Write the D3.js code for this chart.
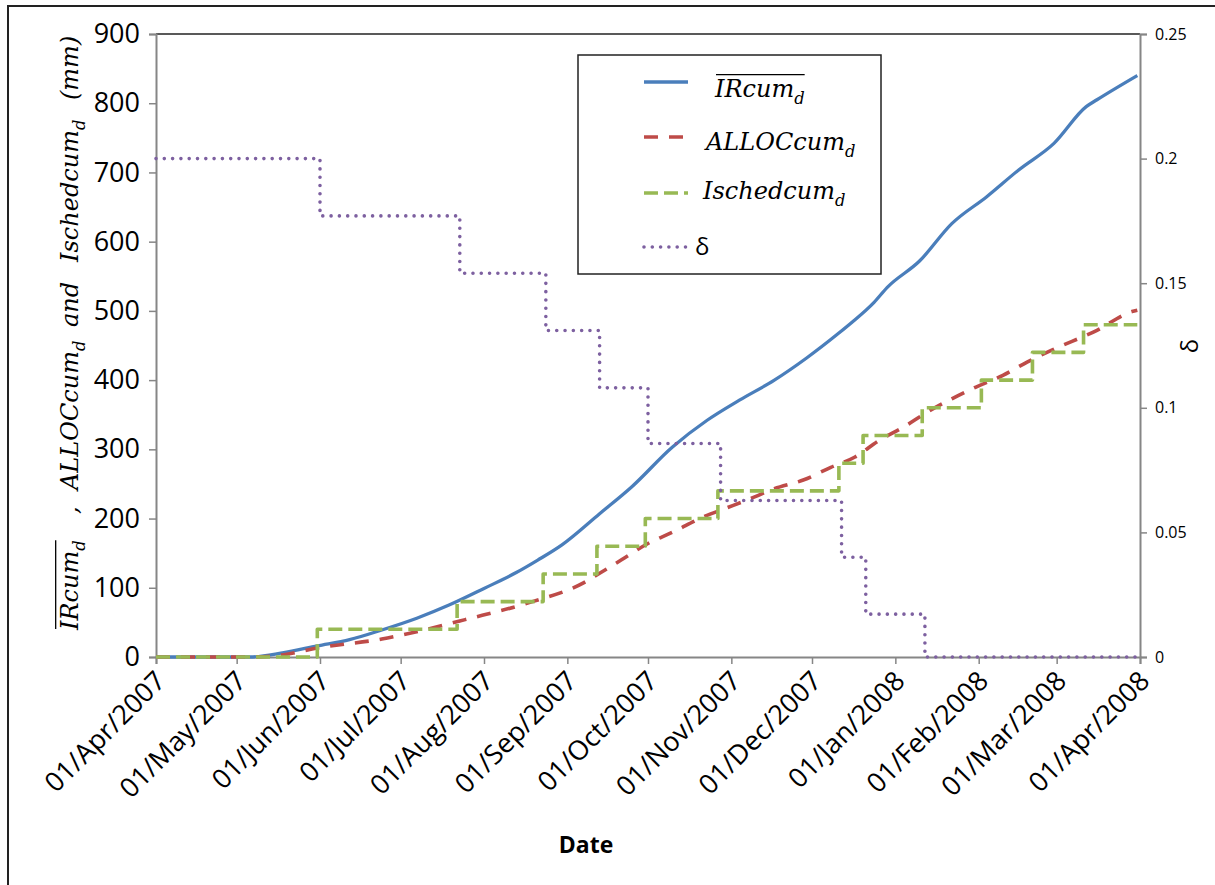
<!DOCTYPE html>
<html>
<head>
<meta charset="utf-8">
<script src="https://cdn.jsdelivr.net/npm/d3@7"></script>
<style>
  body { margin: 0; background: #fff; }
  svg { display: block; }
</style>
</head>
<body>
<svg id="chart"></svg>
<script>
// Données
const monthTicks = ["2007-04-01","2007-05-01","2007-06-01","2007-07-01","2007-08-01","2007-09-01",
  "2007-10-01","2007-11-01","2007-12-01","2008-01-01","2008-02-01","2008-03-01","2008-04-01"];

const irDates = ["2007-04-01","2007-05-06","2007-05-18","2007-05-31","2007-06-12","2007-06-24","2007-07-07",
  "2007-07-19","2007-08-01","2007-08-13","2007-08-21","2007-08-30","2007-09-13","2007-09-25","2007-10-10",
  "2007-10-23","2007-11-04","2007-11-17","2007-11-29","2007-12-11","2007-12-16","2007-12-24","2007-12-29",
  "2008-01-10","2008-01-22","2008-02-04","2008-02-16","2008-02-29","2008-03-12","2008-03-16","2008-03-31"];
const irValues = [0,0,6,16,25,39,56,75,99,122,140,162,207,246,303,342,371,400,432,468,484,512,534,572,626,
  665,704,742,795,805,840];

const allocDates = ["2007-04-01","2007-05-06","2007-05-18","2007-05-31","2007-06-24","2007-07-04","2007-07-19",
  "2007-07-25","2007-08-13","2007-08-19","2007-09-07","2007-09-13","2007-09-21","2007-10-01","2007-10-10",
  "2007-10-22","2007-10-30","2007-11-07","2007-11-17","2007-11-28","2007-12-08","2007-12-17","2007-12-26",
  "2008-01-04","2008-01-13","2008-01-22","2008-01-31","2008-02-10","2008-02-19","2008-02-28","2008-03-16",
  "2008-03-29","2008-03-31"];
const allocValues = [0,0,3,13,26,34,48,54,73,80,107,121,140,164,180,203,215,227,243,256,274,289,313,332,354,
  373,390,407,426,443,472,499,501];

const schedDates = ["2007-04-01","2007-05-31","2007-07-22","2007-08-23","2007-09-12","2007-09-30","2007-10-27",
  "2007-12-11","2007-12-20","2008-01-11","2008-02-02","2008-02-21","2008-03-11","2008-03-31"];
const schedValues = [0,40,80,120,160,200,240,280,320,360,400,440,480,480];

const deltaDates = ["2007-04-01","2007-06-01","2007-07-23","2007-08-24","2007-09-13","2007-10-01","2007-10-28",
  "2007-12-12","2007-12-21","2008-01-12","2008-03-31"];
const deltaValues = [0.2,0.177,0.154,0.131,0.108,0.0857,0.0628,0.04,0.0172,0,0];

const leftTicks = [0,100,200,300,400,500,600,700,800,900];
const rightTicks = [0,0.05,0.1,0.15,0.2,0.25];
const rightTickLabels = ["0","0.05","0.1","0.15","0.2","0.25"];

// Dimensions
const width = 1215, height = 885;
const plot = { left: 156, right: 1140, top: 34, bottom: 657 };
const axisColor = "#868686";

const svg = d3.select("#chart").attr("width", width).attr("height", height);
const parse = d3.timeParse("%Y-%m-%d");

const x = d3.scaleTime()
  .domain([parse("2007-04-01"), parse("2008-04-01")])
  .range([plot.left, plot.right]);
const y = d3.scaleLinear().domain([0, 900]).range([plot.bottom, plot.top]);
const y2 = d3.scaleLinear().domain([0, 0.25]).range([plot.bottom, plot.top]);

// Cadre extérieur
svg.append("rect")
  .attr("x", 8).attr("y", 6)
  .attr("width", 1230).attr("height", 900)
  .attr("fill", "none").attr("stroke", "#222").attr("stroke-width", 2);

// Bordure haute de la zone de tracé
svg.append("line")
  .attr("x1", plot.left).attr("x2", plot.right)
  .attr("y1", plot.top).attr("y2", plot.top)
  .attr("stroke", "#222").attr("stroke-width", 1.5);

// Axes
const gx = svg.append("g")
  .attr("transform", `translate(0,${plot.bottom})`)
  .call(d3.axisBottom(x)
    .tickValues(monthTicks.map(parse))
    .tickSize(7)
    .tickFormat(d3.timeFormat("%d/%b/%Y")));
gx.selectAll("text")
  .attr("font-family", "'Open Sans', sans-serif")
  .attr("font-size", 27)
  .attr("fill", "#000")
  .attr("text-anchor", "end")
  .attr("dy", "0.35em")
  .attr("transform", "translate(4,19) rotate(-45)")
  .attr("x", 0).attr("y", 0);

const gy = svg.append("g")
  .attr("transform", `translate(${plot.left},0)`)
  .call(d3.axisLeft(y).tickValues(leftTicks).tickSize(7).tickPadding(9));
gy.selectAll("text")
  .attr("font-family", "'Open Sans', sans-serif")
  .attr("font-size", 27)
  .attr("fill", "#000");

const gy2 = svg.append("g")
  .attr("transform", `translate(${plot.right},0)`)
  .call(d3.axisRight(y2).tickValues(rightTicks).tickSize(7).tickPadding(8)
    .tickFormat((d, i) => rightTickLabels[i]));
gy2.selectAll("text")
  .attr("font-family", "'Open Sans', sans-serif")
  .attr("font-size", 16)
  .attr("fill", "#000");

[gx, gy, gy2].forEach(g => {
  g.select(".domain").attr("stroke", axisColor).attr("stroke-width", 2);
  g.selectAll(".tick line").attr("stroke", axisColor).attr("stroke-width", 1.5);
});

// Séries
const series = [
  { dates: irDates, values: irValues, scale: y, color: "#4A7EBB", width: 3.3, dash: null, curve: d3.curveMonotoneX },
  { dates: allocDates, values: allocValues, scale: y, color: "#BE4B48", width: 3.6, dash: "14,11", curve: d3.curveMonotoneX },
  { dates: schedDates, values: schedValues, scale: y, color: "#98B954", width: 3.6, dash: "14,6", curve: d3.curveStepAfter },
  { dates: deltaDates, values: deltaValues, scale: y2, color: "#7D60A0", width: 3.6, dash: "0,8.3", curve: d3.curveStepAfter, round: true }
];

series.forEach(s => {
  const pts = s.dates.map((d, i) => [parse(d), s.values[i]]);
  const line = d3.line()
    .x(d => x(d[0]))
    .y(d => s.scale(d[1]))
    .curve(s.curve);
  svg.append("path")
    .datum(pts)
    .attr("d", line)
    .attr("fill", "none")
    .attr("stroke", s.color)
    .attr("stroke-width", s.width)
    .attr("stroke-dasharray", s.dash)
    .attr("stroke-linecap", s.round ? "round" : "butt")
    .attr("stroke-linejoin", "round");
});

// Texte mathématique (italique, indice d)
const mathFont = "'DejaVu Serif', serif";
function mathText(parent, tx, ty, main, size, sub) {
  const t = parent.append("text")
    .attr("x", tx).attr("y", ty)
    .attr("font-family", mathFont)
    .attr("font-style", "italic")
    .attr("font-size", size)
    .attr("fill", "#000");
  t.append("tspan").text(main);
  if (sub) {
    t.append("tspan").attr("font-size", size * 0.68).attr("dy", size * 0.28).text(sub);
  }
  return t;
}
function overline(parent, t, size) {
  const b = t.node().getBBox();
  parent.append("line")
    .attr("x1", b.x + 2).attr("x2", b.x + b.width)
    .attr("y1", +t.attr("y") - size * 0.93).attr("y2", +t.attr("y") - size * 0.93)
    .attr("stroke", "#000").attr("stroke-width", 1.3);
}

// Légende
const legend = svg.append("g");
legend.append("rect")
  .attr("x", 578).attr("y", 55).attr("width", 303).attr("height", 219)
  .attr("fill", "#fff").attr("stroke", "#222").attr("stroke-width", 1.5);

const legendRows = [
  { s: series[0], ly: 82, tx: 715, ty: 97, main: "IRcum", sub: "d", over: true },
  { s: series[1], ly: 137, tx: 706, ty: 150, main: "ALLOCcum", sub: "d" },
  { s: series[2], ly: 193, tx: 703, ty: 199, main: "Ischedcum", sub: "d" },
  { s: series[3], ly: 247, tx: 695, ty: 255, main: "δ", sub: null, plain: true }
];
legendRows.forEach(r => {
  legend.append("line")
    .attr("x1", 644).attr("x2", r.plain ? 690 : 688)
    .attr("y1", r.ly).attr("y2", r.ly)
    .attr("stroke", r.s.color)
    .attr("stroke-width", r.s.width)
    .attr("stroke-dasharray", r.s.dash)
    .attr("stroke-linecap", r.s.round ? "round" : "butt");
  if (r.plain) {
    legend.append("text")
      .attr("x", r.tx).attr("y", r.ty)
      .attr("font-family", "'Open Sans', sans-serif")
      .attr("font-size", 24)
      .text(r.main);
  } else {
    const t = mathText(legend, r.tx, r.ty, r.main, 24, r.sub);
    if (r.over) overline(legend, t, 24);
  }
});

// Titre de l'axe gauche (pivoté), morceaux placés depuis le bas
const yLab = svg.append("g").attr("transform", "translate(78,630) rotate(-90)");
const labSize = 24;
const labParts = [
  { main: "IRcum", sub: "d", over: true, at: 0 },
  { main: ",", sub: null, at: 116 },
  { main: "ALLOCcum", sub: "d", at: 140 },
  { main: "and", sub: null, at: 303 },
  { main: "Ischedcum", sub: "d", at: 368 },
  { main: "(mm)", sub: null, at: 530 }
];
labParts.forEach(p => {
  const t = mathText(yLab, p.at, 0, p.main, labSize, p.sub);
  if (p.over) overline(yLab, t, labSize);
});

// Titre de l'axe droit
svg.append("text")
  .attr("transform", "translate(1198,346) rotate(-90)")
  .attr("text-anchor", "middle")
  .attr("font-family", "'Open Sans', sans-serif")
  .attr("font-size", 24)
  .text("δ");

// Titre de l'axe des dates
svg.append("text")
  .attr("x", 586).attr("y", 853)
  .attr("text-anchor", "middle")
  .attr("font-family", "'Open Sans', sans-serif")
  .attr("font-weight", "bold")
  .attr("font-size", 23)
  .text("Date");
</script>
</body>
</html>
